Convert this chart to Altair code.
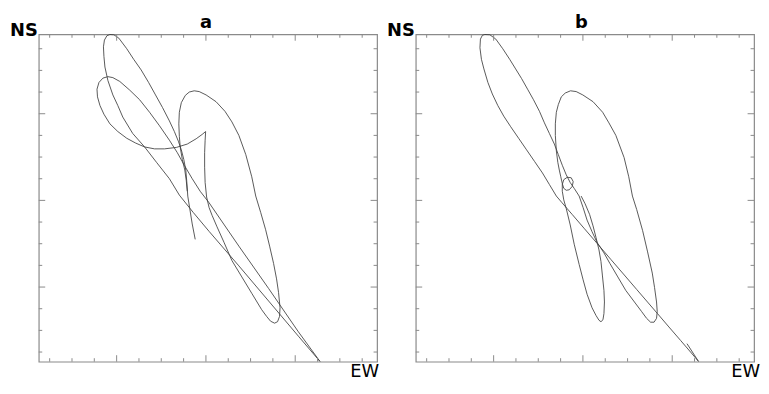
import altair as alt
import pandas as pd

# ---- data (amplitude units; x = EW, y = NS) ----
# panel a, two traced strokes
a1_x = [283.4, 261.7, 231.7, 201.7, 171.7, 155.7, 141.7, 131.7, 118.7, 106.7, 94.7, 84.7, 79.7, 74.7, 69.7, 66.7, 65.7, 65.2, 66.2, 68.7,
        71.7, 75.7, 80.7, 88.7, 95.7, 103.2, 110.7, 117.7, 124.7, 131.7, 136.7, 140.7, 143.7, 146.2, 148.2, 149.2, 150.2, 152.2, 154.7, 157.7]
a1_y = [0.3, 26.5, 63, 99.5, 135.3, 155, 173, 190, 207, 223, 237, 254, 266, 277, 292, 306, 317, 327, 334, 338.5,
        339.8, 339.5, 336, 325, 314, 303, 290, 277, 264, 250, 239, 229, 220, 210, 199, 187, 172, 159, 143, 127]

a2_x = [283.4, 261.7, 231.7, 201.7, 171.7, 162.7, 154.7, 146.7, 139.7, 131.7, 121.7, 111.7, 101.7, 91.7, 81.7, 74.7, 69.7, 64.7, 60.7, 58.7,
        59.2, 61.7, 65.7, 71.7, 79.7, 88.7, 97.7, 106.7, 116.7, 126.7, 138.7, 149.7, 158.7, 164.7, 168.2, 167.7, 167.2, 167.2, 167.7, 169.2,
        171.7, 174.7, 179.7, 186.7, 194.7, 204.7, 214.7, 224.7, 229.7, 233.7, 237.7, 240.7, 242.7, 243.2, 241.7, 239.7, 236.7, 232.7, 228.7, 223.7,
        218.7, 214.7, 208.7, 201.7, 194.7, 187.7, 178.7, 168.7, 161.7, 156.7, 151.7, 147.7, 143.7, 141.7, 141.2, 141.7, 142.7, 144.7, 147.2, 148.7,
        149.7]
a2_y = [0.3, 31, 76, 120, 165, 177, 190, 204, 217, 230, 245, 259, 272, 282, 291, 295, 296, 294.5, 290, 283,
        275, 266, 257, 247, 239, 232, 227, 223, 221, 221, 222.5, 226, 231.5, 236, 239, 230, 217, 202, 186, 171,
        160, 152, 140, 124, 105, 88, 71, 54, 47, 42, 40, 41.5, 47, 56, 72, 86, 102, 120, 137, 155,
        172, 192, 215, 235, 249, 260, 270, 277, 280.5, 281.3, 280, 276.5, 269, 259, 247, 234, 222, 210, 199, 188,
        177]

# panel b, one traced stroke
b1_x = [273.4, 285, 277, 267, 254.4, 243.6, 234.4, 222.7, 210.2, 196.8, 183.5, 170.1, 157.6, 147.5, 141.7, 134.7, 127.7, 119.7, 111.7, 103.7,
        95.7, 88.7, 82.7, 77.2, 72.7, 68.7, 66.2, 64.7, 65.2, 67.2, 69.7, 74.7, 80.7, 87.7, 94.7, 100.7, 106.7, 112.7, 118.7, 124.7,
        129.7, 134.7, 139.7, 143.7, 147.7, 151.7, 155.7, 159.7, 164.7, 168.7, 172.7, 177.7, 182.7, 189.7, 195.7, 203.7, 211.7, 219.7, 227.7, 232.7,
        236.7, 240.2, 242.7, 243.4, 242.7, 240.7, 238.4, 233.7, 228.7, 222.7, 218.4, 214.7, 210, 201.7, 194.7, 188.4, 178.7, 168.4, 161.7, 156,
        150.7, 146.7, 143.7, 141.7, 140.7, 140.7, 141.7, 143.2, 144.7, 146.2, 147.7, 149.2, 151.7, 154.7, 157.7, 158.7, 156.7, 152.7, 149.2, 147.7,
        147.7, 149.2, 151.7, 155.7, 159.7, 164.7, 168.7, 172.7, 177.7, 181.7, 184.7, 186.7, 188.7, 189.7, 190.2, 189.7, 188.2, 186.7, 184.7, 181.7,
        178.7, 175.2, 170.7, 166.7]
b1_y = [18.7, 0.3, 10, 22, 37, 50, 61, 75, 90, 106, 122, 138, 153, 165, 172, 184, 196, 208, 220, 232,
        244, 255, 266, 278, 290, 304, 314, 326, 335, 339, 339.8, 339.5, 335, 325, 314, 304, 294, 283, 272, 260,
        248, 237, 226, 215, 204, 194, 186, 180, 172, 160, 147, 135, 124, 113, 102, 88, 74, 63, 52, 45,
        41, 41, 45, 52, 62, 77, 92, 114, 136, 158, 172, 192, 212, 235, 248, 259, 270, 277, 280.5, 281.3,
        279, 275, 267, 259, 247, 235, 219, 207, 199, 192, 185, 180, 178, 178.5, 182, 187, 191, 191.5, 189, 184,
        177, 168, 159, 142, 122, 101, 85, 70, 56, 48, 43, 41.5, 43.5, 50, 62, 74, 89, 104, 116, 129,
        141, 153, 164, 172]

# tick positions (no labels in the original)
x_minor = [11, 33.5, 56, 101, 123.5, 146, 191, 213.5, 236, 281, 303.5, 326]
x_major = [78.5, 168.5, 258.5]
y_minor = [10, 32.5, 55, 100, 122.5, 145, 190, 212.5, 235, 280, 302.5, 325]
y_major = [77.5, 167.5, 257.5]

titles = ["a", "b"]
W, H = 341, 330
FRAME = "#8a8a8a"
LINE = "#3c3c3c"
FONT = "DejaVu Sans"

xs = alt.Scale(domain=[0, 341], nice=False, zero=False)
ys = alt.Scale(domain=[0, 340], nice=False, zero=False)


def curve_frame(segs):
    frames = []
    for sid, (sx, sy) in enumerate(segs):
        d = pd.DataFrame({"x": sx, "y": sy})
        d["i"] = range(len(d))
        d["seg"] = sid
        frames.append(d)
    return pd.concat(frames, ignore_index=True)


def ticks(values, ln, axis):
    d = pd.DataFrame({"v": values})
    base = alt.Chart(d).mark_rule(color=FRAME, strokeWidth=1)
    if axis == "x":
        enc = alt.X("v:Q", scale=xs, axis=None)
        return [
            base.encode(x=enc, y=alt.value(0), y2=alt.value(ln)),
            base.encode(x=enc, y=alt.value(H - ln), y2=alt.value(H)),
        ]
    enc = alt.Y("v:Q", scale=ys, axis=None)
    return [
        base.encode(y=enc, x=alt.value(0), x2=alt.value(ln)),
        base.encode(y=enc, x=alt.value(W - ln), x2=alt.value(W)),
    ]


def label(txt, x, y, size, weight, align):
    return alt.Chart(pd.DataFrame({"t": [txt]})).mark_text(
        font=FONT, fontSize=size, fontWeight=weight, align=align,
        baseline="alphabetic", color="black"
    ).encode(text="t:N", x=alt.value(x), y=alt.value(y))


def panel(segs, title, ew_x, title_x):
    df = curve_frame(segs)
    curves = alt.Chart(df).mark_line(color=LINE, strokeWidth=0.85).encode(
        x=alt.X("x:Q", scale=xs, axis=None),
        y=alt.Y("y:Q", scale=ys, axis=None),
        order="i:Q",
        detail="seg:N",
    )
    layers = [curves]
    layers += ticks(x_minor, 3.5, "x") + ticks(x_major, 6.5, "x")
    layers += ticks(y_minor, 3.5, "y") + ticks(y_major, 6.5, "y")
    layers += [
        label("NS", -1, 1.5, 18, "bold", "right"),
        label("EW", ew_x, 345, 18, "normal", "left"),
        label(title, title_x, -6, 18, "bold", "center"),
    ]
    return alt.layer(*layers).properties(width=W, height=H)


pa = panel([(a1_x, a1_y), (a2_x, a2_y)], titles[0], 314, 168.5)
pb = panel([(b1_x, b1_y)], titles[1], 318, 167)

chart = alt.hconcat(pa, pb, spacing=39, bounds="flush").properties(
    padding={"left": 1, "top": 4, "right": 0, "bottom": 0}
).configure_view(stroke=FRAME, strokeWidth=1.2)

chart.save("out.html", embed_options={"renderer": "svg", "actions": False})
